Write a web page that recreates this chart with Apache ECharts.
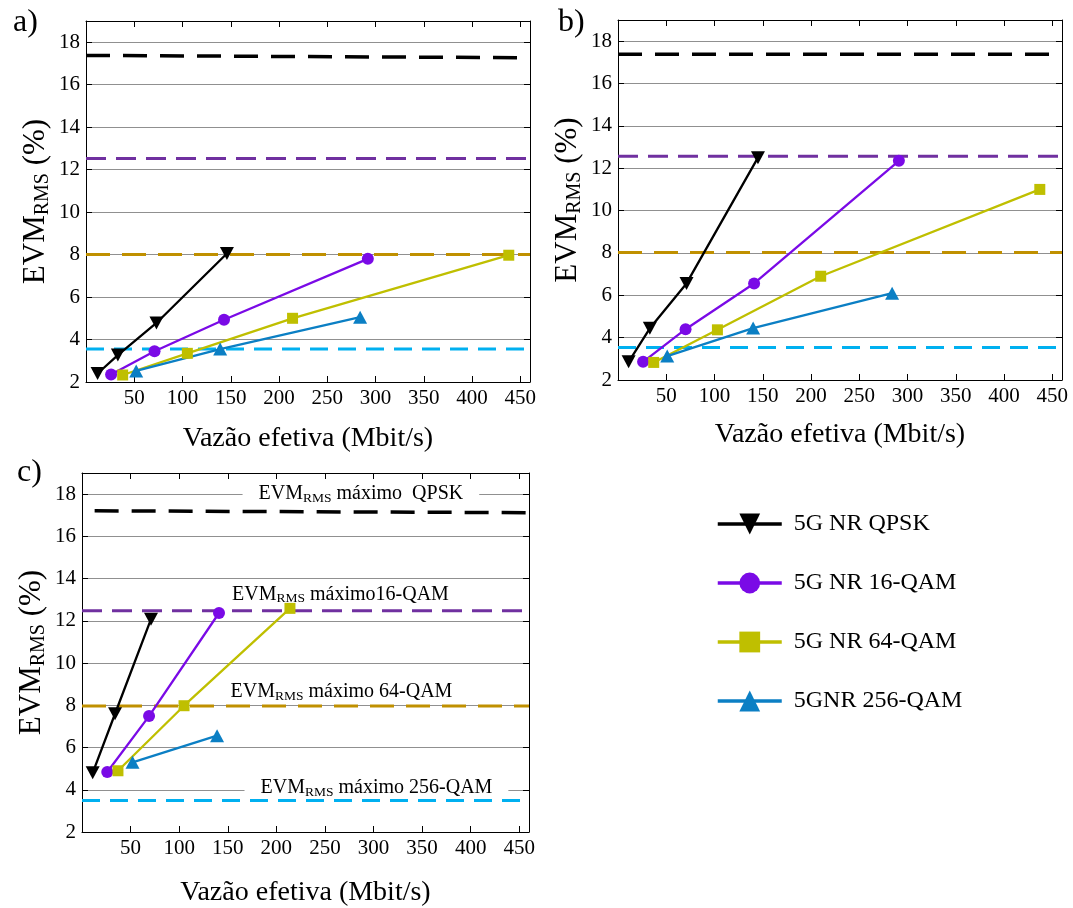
<!DOCTYPE html>
<html><head><meta charset="utf-8">
<script src="https://cdn.jsdelivr.net/npm/echarts@6/dist/echarts.min.js"></script>
<style>html,body{margin:0;padding:0;background:#fff}#c{width:1073px;height:908px}</style>
</head><body><div id="c"></div><script>
// ---------- data ----------
const seriesNames = ['5G NR QPSK', '5G NR 16-QAM', '5G NR 64-QAM', '5GNR 256-QAM'];
const xTickValues = [50, 100, 150, 200, 250, 300, 350, 400, 450];
const yTickValues = [2, 4, 6, 8, 10, 12, 14, 16, 18];
const panelLabels = ['a)', 'b)', 'c)'];

// panel a
const aQpskX = [12, 33, 73, 146];   const aQpskY = [2.4, 3.27, 4.78, 8.05];
const a16X = [26, 71, 143, 292];    const a16Y = [2.35, 3.45, 4.93, 7.8];
const a64X = [38, 105, 214, 438];   const a64Y = [2.33, 3.35, 5.0, 7.97];
const a256X = [52, 139, 284];       const a256Y = [2.52, 3.55, 5.05];
// panel b
const bQpskX = [11, 33, 71, 145];   const bQpskY = [2.86, 4.44, 6.56, 12.5];
const b16X = [26, 70, 141, 291];    const b16Y = [2.86, 4.4, 6.56, 12.35];
const b64X = [37, 103, 210, 437];   const b64Y = [2.83, 4.37, 6.9, 11.0];
const b256X = [51, 140, 284];       const b256Y = [3.13, 4.45, 6.1];
// panel c
const cQpskX = [11, 34, 71];        const cQpskY = [4.8, 7.6, 12.08];
const c16X = [26, 69, 141];         const c16Y = [4.84, 7.49, 12.37];
const c64X = [37, 105, 214];        const c64Y = [4.9, 7.98, 12.59];
const c256X = [52, 139];            const c256Y = [5.3, 6.56];

// maximum EVM limit lines (x start, x end, y start, y end)
const aLimQpsk = [0, 456, 17.38, 17.27]; const aLim16 = [0, 460, 12.52, 12.52];
const aLim64 = [0, 460, 8.0, 8.0];       const aLim256 = [0, 460, 3.55, 3.55];
const bLimQpsk = [0, 460, 17.38, 17.38]; const bLim16 = [0, 460, 12.57, 12.57];
const bLim64 = [0, 460, 8.02, 8.02];     const bLim256 = [0, 460, 3.53, 3.53];
const cLimQpsk = [13, 460, 17.21, 17.12]; const cLim16 = [0, 460, 12.48, 12.48];
const cLim64 = [0, 460, 7.97, 7.97];     const cLim256 = [0, 460, 3.49, 3.49];

// annotations in panel c
const annText = ['máximo  QPSK', 'máximo16-QAM', 'máximo 64-QAM', 'máximo 256-QAM'];
const annX = [287, 266, 267, 303];
const annY = [18.03, 13.25, 8.65, 4.08];
const annBoxed = [true, false, false, true];

// ---------- styles ----------
const FONT = '"Liberation Serif", "Times New Roman", serif';
const colors = ['#000000', '#7a0ae6', '#bfbf00', '#0b7fc4'];
const symbols = ['path://M0,0 L12,0 L6,11 Z', 'circle', 'rect', 'triangle'];
const symSizes = [[14, 13], 12, 11, [14, 13]];
const limColors = ['#000000', '#7030a0', '#c09000', '#00b0f0'];
const limDash = [[24, 13], [20, 10], [24, 12], [18, 10]];
const limWidth = [3.5, 3, 3, 3];

const panels = [
  { pts: [[aQpskX, aQpskY], [a16X, a16Y], [a64X, a64Y], [a256X, a256Y]], lims: [aLimQpsk, aLim16, aLim64, aLim256] },
  { pts: [[bQpskX, bQpskY], [b16X, b16Y], [b64X, b64Y], [b256X, b256Y]], lims: [bLimQpsk, bLim16, bLim64, bLim256] },
  { pts: [[cQpskX, cQpskY], [c16X, c16Y], [c64X, c64Y], [c256X, c256Y]], lims: [cLimQpsk, cLim16, cLim64, cLim256] }
];

const grids = [
  { left: 86, top: 21, width: 444, height: 361 },
  { left: 618, top: 20, width: 444, height: 360 },
  { left: 82, top: 473, width: 447, height: 361 }
];
const xNameGap = [43, 41, 47];
const titlePos = [[8, 2], [553, 2], [12, 452]];

const xAxes = [], yAxes = [], series = [];
grids.forEach((g, i) => {
  xAxes[i] = {
    gridIndex: i, type: 'value', min: 0, max: 460, interval: 50, position: 'bottom',
    axisLine: { show: true, onZero: false, lineStyle: { color: '#000', width: 1 } },
    axisTick: { show: true, inside: true, length: 6, lineStyle: { color: '#000' } },
    axisLabel: { show: true, margin: 6, fontSize: 21, fontFamily: FONT, color: '#000',
      formatter: v => xTickValues.includes(v) ? String(v) : '' },
    splitLine: { show: false },
    name: 'Vazão efetiva (Mbit/s)', nameLocation: 'middle', nameGap: xNameGap[i],
    nameTextStyle: { fontSize: 28, fontFamily: FONT, color: '#000' }
  };
  xAxes[i + 3] = {
    gridIndex: i, type: 'value', min: 0, max: 460, interval: 50, position: 'top',
    axisLine: { show: true, onZero: false, lineStyle: { color: '#000', width: 1 } },
    axisTick: { show: true, inside: true, length: 6, lineStyle: { color: '#000' } },
    axisLabel: { show: false }, splitLine: { show: false }
  };
  yAxes[i] = {
    gridIndex: i, type: 'value', min: 2, max: 19, interval: 2, position: 'left',
    axisLine: { show: true, onZero: false, lineStyle: { color: '#000', width: 1 } },
    axisTick: { show: true, inside: true, length: 6, lineStyle: { color: '#000' } },
    axisLabel: { show: true, margin: 6, fontSize: 21, fontFamily: FONT, color: '#000',
      formatter: v => yTickValues.includes(v) ? String(v) : '' },
    splitLine: { show: true, lineStyle: { color: '#909090', width: 1 } },
    name: '{m|EVM}{s|RMS}{m| (%)}', nameLocation: 'middle', nameGap: 33,
    nameTextStyle: { color: '#000', rich: {
      m: { fontSize: 31, fontFamily: FONT, color: '#000' },
      s: { fontSize: 20, fontFamily: FONT, color: '#000', padding: [15, 0, 0, 0] } } }
  };
  yAxes[i + 3] = {
    gridIndex: i, type: 'value', min: 2, max: 19, interval: 2, position: 'right',
    axisLine: { show: true, onZero: false, lineStyle: { color: '#000', width: 1 } },
    axisTick: { show: true, inside: true, length: 6, lineStyle: { color: '#000' } },
    axisLabel: { show: false }, splitLine: { show: false }
  };

  const p = panels[i];
  p.lims.forEach((l, k) => {
    series.push({
      type: 'line', name: 'lim' + k, xAxisIndex: i, yAxisIndex: i, silent: true, z: 3,
      symbol: 'none', data: [[l[0], l[2]], [l[1], l[3]]],
      lineStyle: { color: limColors[k], width: limWidth[k], type: limDash[k] }
    });
  });
  p.pts.forEach((xy, k) => {
    series.push({
      type: 'line', name: seriesNames[k], xAxisIndex: i, yAxisIndex: i, z: 4,
      data: xy[0].map((x, j) => [x, xy[1][j]]),
      symbol: symbols[k], symbolSize: symSizes[k], showAllSymbol: true,
      color: colors[k],
      itemStyle: { color: colors[k] },
      lineStyle: { color: colors[k], width: 2.3 }
    });
  });
});

// annotations (panel c)
series.push({
  type: 'scatter', name: 'ann', xAxisIndex: 2, yAxisIndex: 2, z: 1, silent: true,
  symbol: 'circle', symbolSize: 0,
  data: annX.map((x, j) => ({
    value: [x, annY[j]],
    label: annBoxed[j] ? { backgroundColor: '#fff', padding: [0, 16] } : {}
  })),
  label: {
    show: true, position: 'inside', color: '#000', opacity: 1,
    textBorderWidth: 0, textShadowBlur: 0,
    formatter: p => '{m|EVM}{s|RMS}{m| ' + annText[p.dataIndex] + '}',
    rich: {
      m: { fontSize: 20, fontFamily: FONT, color: '#000', textBorderWidth: 0 },
      s: { fontSize: 13.5, fontFamily: FONT, color: '#000', textBorderWidth: 0, padding: [9, 0, 0, 0] }
    }
  },
  emphasis: { disabled: true }
});

const option = {
  backgroundColor: '#fff',
  animation: false,
  title: panelLabels.map((t, i) => ({
    text: t, left: titlePos[i][0], top: titlePos[i][1],
    textStyle: { fontSize: 32, fontWeight: 'normal', fontFamily: FONT, color: '#000' }
  })),
  grid: grids,
  xAxis: xAxes,
  yAxis: yAxes,
  legend: {
    data: seriesNames, orient: 'vertical', left: 711, top: 507,
    itemWidth: 64, itemHeight: 26, itemGap: 35,
    lineStyle: { width: 3.5 },
    textStyle: { fontSize: 24, fontFamily: FONT, color: '#000', padding: [0, 0, 0, 7] },
    selectedMode: false
  },
  series: series
};
const chart = echarts.init(document.getElementById('c'), null, { renderer: 'canvas' });
chart.setOption(option);
</script></body></html>
